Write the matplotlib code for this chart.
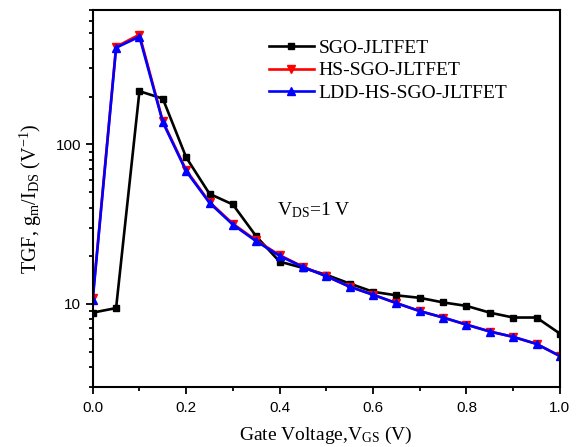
import matplotlib
matplotlib.use("Agg")
import matplotlib.pyplot as plt
from matplotlib.ticker import LogLocator, NullFormatter, FixedLocator, FixedFormatter, MultipleLocator, FormatStrFormatter

vgs = [0.0, 0.05, 0.1, 0.15, 0.2, 0.25, 0.3, 0.35, 0.4, 0.45, 0.5,
       0.55, 0.6, 0.65, 0.7, 0.75, 0.8, 0.85, 0.9, 0.95, 1.0]
sgo = [8.8, 9.4, 216, 194, 83, 49, 42, 26.5, 18.4, 16.8, 15.2,
       13.4, 11.9, 11.3, 10.9, 10.2, 9.7, 8.8, 8.2, 8.2, 6.5]
hs_sgo = [10.9, 410, 490, 140, 69, 43.5, 31.8, 25.0, 20.2, 17.1, 14.9,
          12.8, 11.4, 10.1, 9.0, 8.2, 7.4, 6.7, 6.2, 5.6, 4.7]
ldd_hs_sgo = [10.6, 405, 475, 138, 68, 43, 31.4, 24.7, 20.0, 17.0, 14.9,
              12.8, 11.4, 10.1, 9.0, 8.2, 7.4, 6.7, 6.2, 5.6, 4.7]
labels = ["SGO-JLTFET", "HS-SGO-JLTFET", "LDD-HS-SGO-JLTFET"]
ytick_vals = [10, 100]
ytick_labels = ["10", "100"]

plt.rcParams["mathtext.fontset"] = "custom"
plt.rcParams["mathtext.rm"] = "Liberation Serif"
plt.rcParams["mathtext.it"] = "Liberation Serif:italic"

serif = ["Liberation Serif", "DejaVu Serif"]
sans = ["Liberation Sans", "DejaVu Sans"]

fig = plt.figure(figsize=(5.76, 4.47), dpi=100)
ax = fig.add_axes([0.161, 0.134, 0.811, 0.844])

ax.plot(vgs, sgo, color="black", marker="s", markersize=5, lw=1.9, label=labels[0])
ax.plot(vgs, hs_sgo, color="red", marker="v", markersize=6, lw=1.9, label=labels[1])
ax.plot(vgs, ldd_hs_sgo, color="blue", marker="^", markersize=6, lw=1.9, label=labels[2])

ax.set_yscale("log")
ax.set_xlim(0, 1.0)
ax.set_ylim(3.0, 700)

ax.xaxis.set_major_locator(MultipleLocator(0.2))
ax.xaxis.set_minor_locator(MultipleLocator(0.1))
ax.xaxis.set_major_formatter(FormatStrFormatter("%.1f"))
ax.yaxis.set_major_locator(FixedLocator(ytick_vals))
ax.yaxis.set_major_formatter(FixedFormatter(ytick_labels))
ax.yaxis.set_minor_locator(LogLocator(base=10, subs=range(2, 10)))
ax.yaxis.set_minor_formatter(NullFormatter())

ax.tick_params(which="both", direction="out", top=False, right=False, width=1.3)
ax.tick_params(which="major", length=5, labelsize=11)
ax.tick_params(axis="x", which="major", pad=5)
ax.tick_params(which="minor", length=3)
for lab in ax.get_xticklabels() + ax.get_yticklabels():
    lab.set_family(sans)
for s in ax.spines.values():
    s.set_linewidth(1.5)

ax.set_xlabel("Gate Voltage,V$_{\\mathrm{GS}}$ (V)", fontsize=14, family=serif, labelpad=7)
ax.set_ylabel("TGF, g$_{\\mathrm{m}}$/I$_{\\mathrm{DS}}$ (V$^{\\mathrm{-1}}$)", fontsize=14.5, family=serif, labelpad=8)

ax.text(0.394, 35.7, "V$_{\\mathrm{DS}}$=1 V", fontsize=14, family=serif)

leg = ax.legend(loc="upper left", bbox_to_anchor=(0.34, 0.968), frameon=False,
                prop={"family": serif, "size": 14}, handlelength=2.3,
                labelspacing=0.25, handletextpad=0.25, markerscale=0.9)

fig.savefig("out.png", dpi=100)
